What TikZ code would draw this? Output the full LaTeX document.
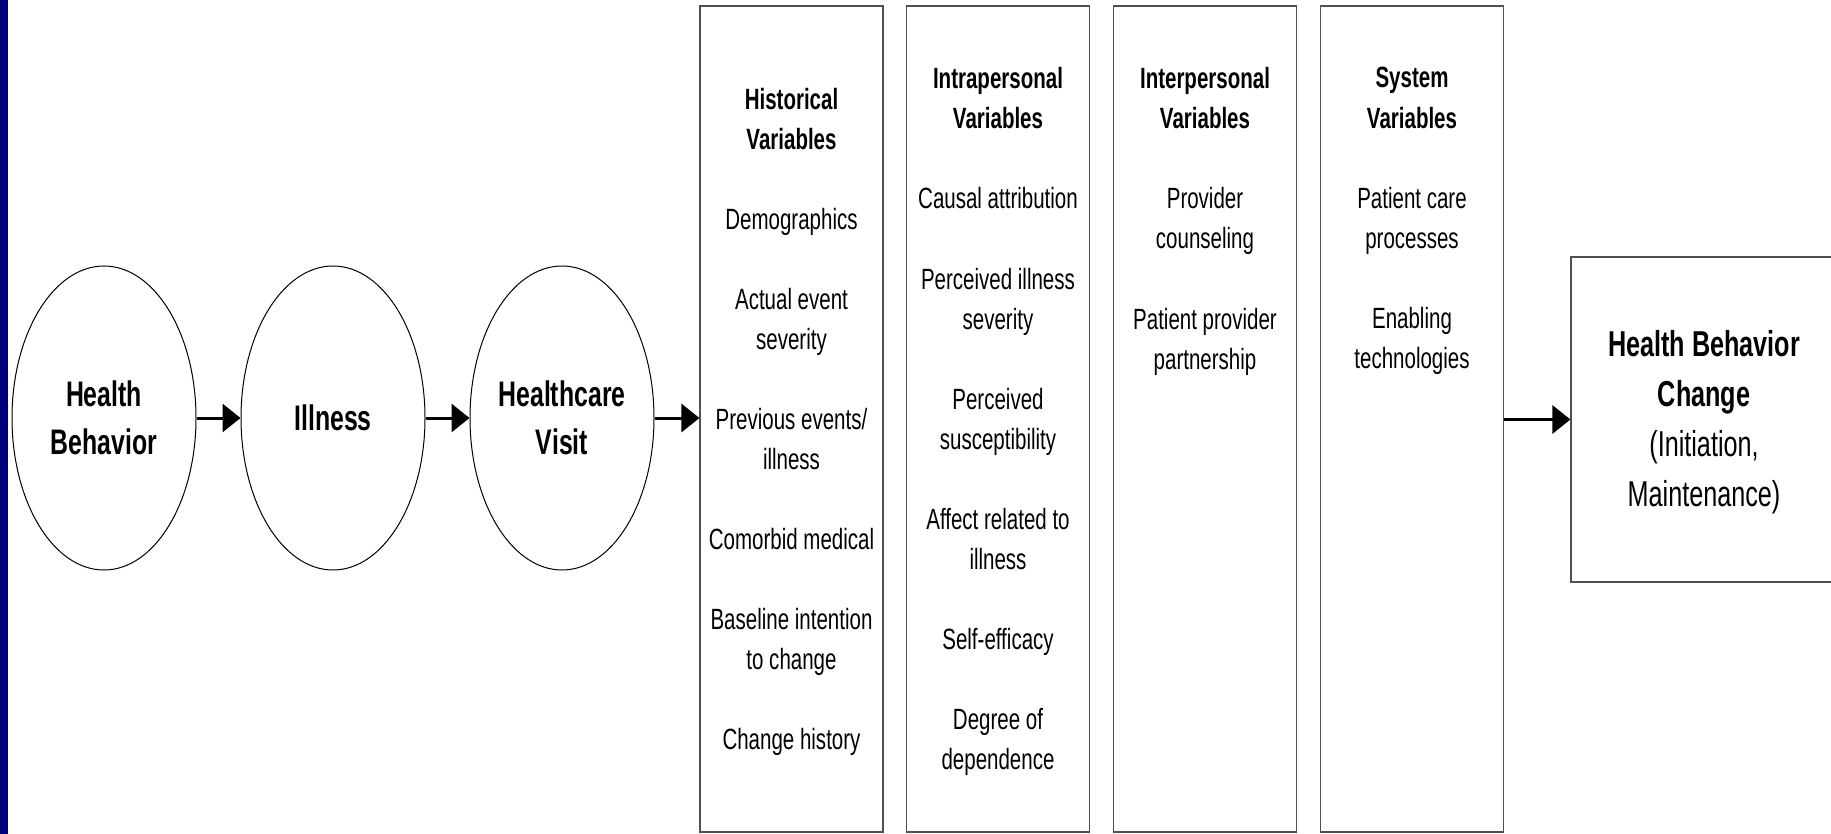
\documentclass[tikz,border=0pt]{standalone}
\usepackage{fontspec}
\setmainfont{Liberation Sans}[FakeStretch=0.7]
\usetikzlibrary{shapes.geometric,arrows.meta}
\definecolor{navybar}{RGB}{0,0,122}
\definecolor{boxline}{RGB}{80,80,80}
\tikzset{
  stage/.style={ellipse, draw=black, line width=1pt, minimum width=184pt, minimum height=304pt,
    inner sep=0pt, align=center, font=\bfseries\fontsize{35.5}{48}\selectfont},
  varbox/.style={rectangle, draw=boxline, line width=1.1pt, minimum width=183pt, minimum height=826pt, inner sep=0pt},
  vartext/.style={align=center, inner sep=0pt, font=\fontsize{29.3}{40.05}\selectfont},
  outbox/.style={rectangle, draw=boxline, line width=1.1pt, minimum width=266pt, minimum height=325pt,
    inner sep=0pt, align=center, font=\fontsize{36}{50}\selectfont},
  arr/.style={line width=3pt, -{Triangle[length=18pt,width=28pt]}}
}
\begin{document}
\begin{tikzpicture}[x=1pt,y=-1pt]
\useasboundingbox (0,0) rectangle (1831,834);
\fill[white] (0,0) rectangle (1831,834);
\fill[navybar] (0,0) rectangle (8,834);

\node[stage] (e1) at (104,418) {Health\\Behavior};
\node[stage] (e2) at (333,418) {Illness};
\node[stage] (e3) at (562,418) {Healthcare\\Visit};

\node[varbox] (b1) at (791.5,419) {};
\node[varbox] (b2) at (998,419) {};
\node[varbox] (b3) at (1205,419) {};
\node[varbox] (b4) at (1412,419) {};

\node[outbox] (fin) at (1704,419.5) {};
\node[align=center, inner sep=0pt, font=\fontsize{36}{50}\selectfont] (fintext) at (1704,422.5) {\textbf{Health Behavior}\\\textbf{Change}\\(Initiation,\\Maintenance)};

\node[vartext] (t1) at (791.5,422) {\textbf{Historical}\\\textbf{Variables}\\[40.05pt]Demographics\\[40.05pt]Actual event\\severity\\[40.05pt]Previous events/\\illness\\[40.05pt]Comorbid medical\\[40.05pt]Baseline intention\\to change\\[40.05pt]Change history};
\node[vartext] (t2) at (998,421.6) {\textbf{Intrapersonal}\\\textbf{Variables}\\[40.05pt]Causal attribution\\[40.05pt]Perceived illness\\severity\\[40.05pt]Perceived\\susceptibility\\[40.05pt]Affect related to\\illness\\[40.05pt]Self-efficacy\\[40.05pt]Degree of\\dependence};
\node[vartext, anchor=north] (t3) at (t2.north -| b3.center) {\textbf{Interpersonal}\\\textbf{Variables}\\[40.05pt]Provider\\counseling\\[40.05pt]Patient provider\\partnership};
\node[vartext, anchor=north] (t4) at (t2.north -| b4.center) {\textbf{System}\\\textbf{Variables}\\[40.05pt]Patient care\\processes\\[40.05pt]Enabling\\technologies};

\draw[arr] (e1.east) -- (e2.west);
\draw[arr] (e2.east) -- (e3.west);
\draw[arr] (e3.east) -- (b1.west |- e3.east);
\draw[arr] (b4.east |- fin.west) -- (fin.west);
\end{tikzpicture}
\end{document}
